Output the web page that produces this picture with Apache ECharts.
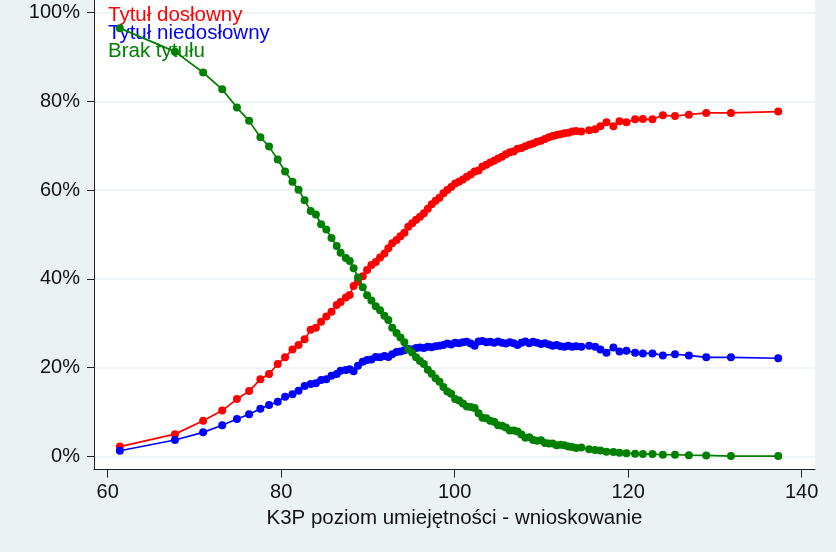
<!DOCTYPE html>
<html>
<head>
<meta charset="utf-8">
<script src="https://cdn.jsdelivr.net/npm/echarts@6/dist/echarts.min.js"></script>
<style>
html,body{margin:0;padding:0;background:#eaf2f3;}
#c{width:836px;height:552px;}
</style>
</head>
<body>
<div id="c"></div>
<script>
// Skill level (x) shared by all three series
const skill = [
  61.4, 67.75, 71.0, 73.2, 74.9, 76.3, 77.6, 78.6,
  79.6, 80.45, 81.3, 82.0, 82.7, 83.4, 84.0, 84.6,
  85.2, 85.8, 86.4, 86.85, 87.45, 87.9, 88.35, 88.85,
  89.4, 89.9, 90.4, 90.9, 91.4, 91.9, 92.35, 92.8,
  93.3, 93.75, 94.2, 94.65, 95.1, 95.55, 96.0, 96.45,
  96.9, 97.35, 97.8, 98.25, 98.7, 99.15, 99.6, 100.05,
  100.5, 100.95, 101.4, 101.85, 102.3, 102.75, 103.2, 103.65,
  104.1, 104.55, 105.0, 105.45, 105.9, 106.35, 106.8, 107.25,
  107.7, 108.15, 108.6, 109.05, 109.5, 109.95, 110.4, 110.85,
  111.3, 111.75, 112.2, 112.65, 113.1, 113.55, 114.0, 114.6,
  115.5, 116.2, 116.8, 117.5, 118.3, 119.0, 119.8, 120.8,
  121.7, 122.8, 124.0, 125.4, 127.0, 129.0, 131.85, 137.3
];
// "Tytuł dosłowny" (%)
const literal = [
  2.2, 5.0, 8.0, 10.3, 12.9, 14.7, 17.35, 18.55,
  20.8, 22.3, 24.1, 25.1, 26.4, 28.5, 29.0, 30.3,
  31.5, 32.6, 34.1, 34.8, 35.8, 36.35, 38.4, 39.35,
  40.6, 42.0, 43.1, 43.8, 44.8, 45.7, 46.9, 48.0,
  48.75, 49.6, 50.4, 51.75, 52.5, 53.3, 54.0, 54.8,
  55.8, 56.8, 57.6, 58.3, 59.3, 60.0, 60.7, 61.5,
  61.9, 62.4, 63.0, 63.5, 64.2, 64.4, 65.3, 65.7,
  66.2, 66.6, 67.1, 67.5, 68.1, 68.5, 68.7, 69.3,
  69.5, 69.9, 70.2, 70.5, 70.9, 71.1, 71.5, 71.9,
  72.2, 72.4, 72.6, 72.8, 72.9, 73.2, 73.3, 73.2,
  73.5, 73.7, 74.4, 75.3, 74.4, 75.5, 75.3, 75.95,
  76.0, 75.95, 76.85, 76.7, 77.0, 77.4, 77.4, 77.7
];
// "Tytuł niedosłowny" (%)
const nonLiteral = [
  1.26, 3.67, 5.4, 7.0, 8.4, 9.5, 10.7, 11.55,
  12.3, 13.4, 14.0, 14.8, 15.85, 16.3, 16.45, 17.2,
  17.35, 18.15, 18.55, 19.3, 19.45, 19.6, 19.2, 20.4,
  21.3, 21.7, 21.8, 22.4, 22.3, 22.6, 22.4, 23.0,
  23.5, 23.6, 23.9, 24.2, 24.1, 24.4, 24.5, 24.4,
  24.7, 24.6, 24.8, 24.9, 25.1, 25.4, 25.2, 25.6,
  25.5, 25.7, 25.8, 25.4, 24.9, 25.9, 26.0, 25.7,
  25.8, 25.6, 25.9, 25.6, 25.4, 25.7, 25.5, 25.1,
  25.6, 25.9, 25.5, 25.8, 25.6, 25.3, 25.5, 25.2,
  24.9, 25.1, 24.8, 24.7, 24.9, 24.7, 24.8, 24.7,
  24.9, 24.7, 24.1, 23.35, 24.5, 23.6, 23.8, 23.35,
  23.2, 23.2, 22.75, 23.0, 22.75, 22.3, 22.3, 22.1
];
// "Brak tytułu" (%)
const noTitle = [
  96.5, 91.2, 86.5, 82.7, 78.6, 75.6, 71.9, 69.8,
  66.9, 64.2, 61.9, 60.1, 57.7, 55.3, 54.5, 52.3,
  51.1, 49.2, 47.4, 45.9, 44.7, 44.0, 42.4, 40.3,
  38.1, 36.3, 35.1, 33.8, 32.9, 31.7, 30.7, 29.0,
  27.8, 26.8, 25.7, 24.1, 23.4, 22.3, 21.5, 20.8,
  19.5, 18.6, 17.6, 16.8, 15.6, 14.6, 14.1, 12.9,
  12.6, 11.9, 11.2, 11.1, 10.9, 9.7, 8.7, 8.6,
  8.0, 7.8, 7.0, 6.9, 6.5, 5.8, 5.8, 5.6,
  4.9, 4.2, 4.3, 3.7, 3.5, 3.6, 3.0, 2.9,
  2.9, 2.5, 2.6, 2.5, 2.2, 2.1, 1.9, 2.0,
  1.6, 1.4, 1.3, 1.05, 0.95, 0.8, 0.7, 0.6,
  0.5, 0.5, 0.35, 0.35, 0.25, 0.2, 0.05, 0.05
];
const seriesNames = ['Tytuł dosłowny', 'Tytuł niedosłowny', 'Brak tytułu'];
const seriesColors = ['#ff0000', '#0000ff', '#008000'];
const xTicks = [60, 80, 100, 120, 140];
const yTicks = [0, 20, 40, 60, 80, 100];
const xTitle = 'K3P poziom umiejętności - wnioskowanie';

const FONT = '"Liberation Sans", Arial, sans-serif';
const values = [literal, nonLiteral, noTitle];

const chart = echarts.init(document.getElementById('c'), null, {renderer: 'canvas'});
chart.setOption({
  animation: false,
  backgroundColor: '#eaf2f3',
  textStyle: {fontFamily: FONT},
  grid: {
    left: 94, right: 21, top: 0, bottom: 82.5,
    show: true, backgroundColor: '#ffffff', borderWidth: 0
  },
  legend: {
    orient: 'vertical',
    left: 98, top: 0,
    itemWidth: 0, itemHeight: 0, itemGap: -3,
    icon: 'rect',
    selectedMode: false,
    textStyle: {fontSize: 20.5, fontFamily: FONT, lineHeight: 18, padding: 0},
    data: seriesNames.map((n, i) => ({name: n, textStyle: {color: seriesColors[i]}}))
  },
  xAxis: {
    type: 'value',
    min: 58.42, max: 141.54,
    name: xTitle,
    nameLocation: 'middle',
    nameGap: 38,
    nameTextStyle: {fontSize: 20.5, color: '#111', fontFamily: FONT},
    axisLine: {show: true, onZero: false, lineStyle: {color: '#222', width: 1}},
    axisTick: {show: true, length: 8, customValues: xTicks, lineStyle: {color: '#222'}},
    axisLabel: {customValues: xTicks, fontSize: 20, color: '#111', margin: 13, fontFamily: FONT},
    splitLine: {show: false}
  },
  yAxis: {
    type: 'value',
    min: -2.97, max: 102.84,
    axisLine: {show: true, onZero: false, lineStyle: {color: '#222', width: 1}},
    axisTick: {show: true, length: 7, customValues: yTicks, lineStyle: {color: '#222'}},
    axisLabel: {customValues: yTicks, fontSize: 20, color: '#111', margin: 14, fontFamily: FONT,
      formatter: v => v + '%'},
    splitLine: {show: true, lineStyle: {color: '#eaf2f3', width: 1.5}}
  },
  series: seriesNames.map((n, i) => ({
    name: n,
    type: 'line',
    data: skill.map((x, j) => [x, values[i][j]]),
    symbol: 'circle',
    symbolSize: 8,
    showAllSymbol: true,
    lineStyle: {color: seriesColors[i], width: 1.7},
    itemStyle: {color: seriesColors[i]},
    z: 2 + i
  }))
});
</script>
</body>
</html>
